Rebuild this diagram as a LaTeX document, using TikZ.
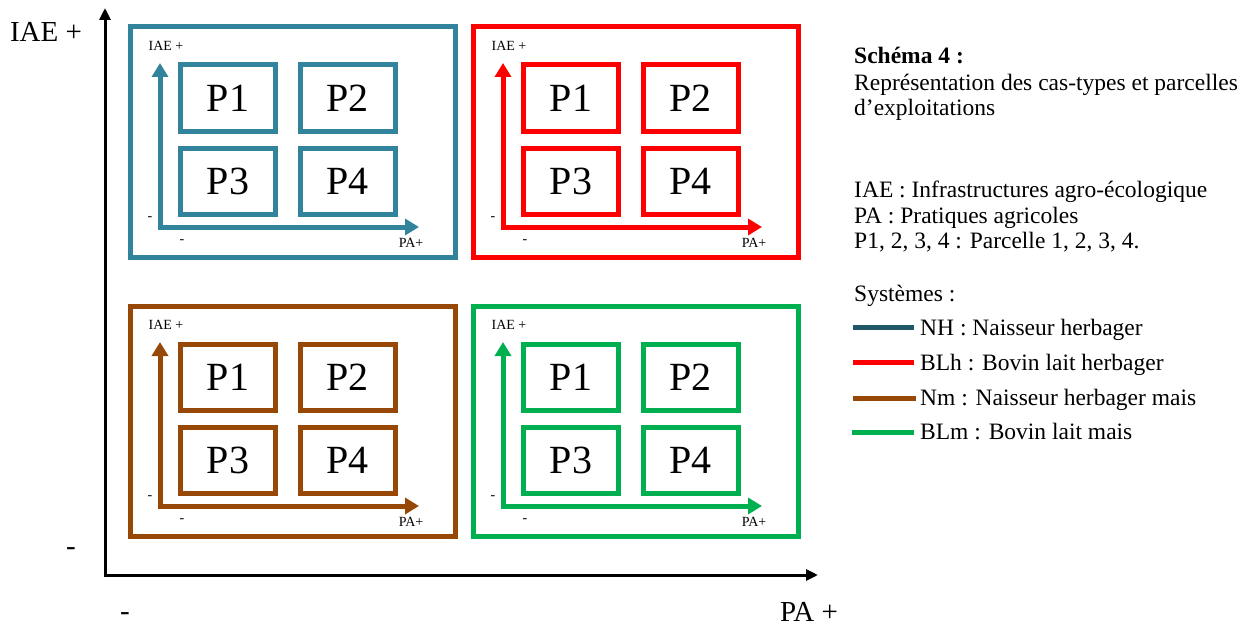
\documentclass[tikz,border=0pt]{standalone}
\usepackage{fontspec}
\setmainfont{Liberation Serif}
\usepackage{xcolor}
\usepackage{tikz}
\usetikzlibrary{arrows.meta,positioning}
\definecolor{nh}{HTML}{31849B}
\definecolor{nhdark}{HTML}{215868}
\definecolor{blh}{HTML}{FF0000}
\definecolor{nm}{HTML}{984806}
\definecolor{blm}{HTML}{00B050}
\tikzset{
  quad/.style={line width=5pt},
  parcel/.style={draw, line width=5pt, minimum width=95pt, minimum height=66pt, inner sep=0pt, font=\fontsize{40}{40}\selectfont},
  ax/.style={line width=5pt, {Triangle[width=16pt,length=14pt]}-{Triangle[width=16pt,length=14pt]}},
  bigax/.style={draw=black, line width=3pt, {Triangle[width=11pt,length=12pt]}-{Triangle[width=11pt,length=12pt]}},
  small/.style={inner sep=0pt, font=\fontsize{14}{14}\selectfont},
  big/.style={inner sep=0pt, font=\fontsize{29}{29}\selectfont},
  leg/.style={anchor=base west, inner sep=0pt, font=\fontsize{23.5}{28}\selectfont},
  swatch/.style={line width=5pt},
}

\begin{document}
\begin{tikzpicture}[x=1pt, y=-1pt]
\useasboundingbox (0,0) rectangle (1248,626);

% main axes
\coordinate (top) at (105,8);
\coordinate (origin) at (105,575);
\coordinate (right) at (818,575);
\draw[bigax] (top) |- (right);
\node[big] (iae) at (46,32) {IAE +};
\node[big] (iaemin) at (71,552) {-};
\node[big] (pamin) at (125,617) {-};
\node[big] (pa) at (809,612) {PA +};

% the four cas-types
\foreach \q/\dx/\dy in {nh/0/0, blh/343/0, nm/0/279, blm/343/279}{
\begin{scope}[shift={(\dx,\dy)}]
  \draw[quad, draw=\q] (130,27) rectangle (455,257);
  \node[parcel, draw=\q] (\q p1) at (228,98) {P1};
  \node[parcel, draw=\q] (\q p2) at (347.5,98) {P2};
  \node[parcel, draw=\q] (\q p3) at (228,181) {P3};
  \node[parcel, draw=\q] (\q p4) at (347.5,181) {P4};
  \coordinate (\q top) at (160,63);
  \coordinate (\q o) at (160,227);
  \coordinate (\q right) at (419,227);
  \draw[ax, draw=\q] (\q top) |- (\q right);
  \node[small] (\q iae) at (166,46) {IAE +};
  \node[small] (\q ymin) at (150,219) {-};
  \node[small] (\q xmin) at (182,242) {-};
  \node[small] (\q pa) at (411,243) {PA+};
\end{scope}}

% legend
\node[leg] (title) at (854,64) {\textbf{Schéma 4 :}};
\node[leg] (sub1) at (854,90) {Représentation des cas-types et parcelles};
\node[leg] (sub2) at (854,115) {d’exploitations};
\node[leg] (defiae) at (854,197) {IAE : Infrastructures agro-écologique};
\node[leg] (defpa) at (854,223) {PA : Pratiques agricoles};
\node[leg] (defp) at (854,248) {P1, 2, 3, 4 : Parcelle 1, 2, 3, 4.};
\node[leg] (sys) at (854,301) {Systèmes :};
\draw[swatch, draw=nhdark] (853,327) -- (914,327);
\node[leg] (lnh) at (920,335) {NH : Naisseur herbager};
\draw[swatch, draw=blh] (853,362) -- (914,362);
\node[leg] (lblh) at (920,370) {BLh : Bovin lait herbager};
\draw[swatch, draw=nm] (853,398) -- (916,398);
\node[leg] (lnm) at (920,405) {Nm : Naisseur herbager mais};
\draw[swatch, draw=blm] (852,432) -- (914,432);
\node[leg] (lblm) at (920,439) {BLm : Bovin lait mais};
\end{tikzpicture}
\end{document}
